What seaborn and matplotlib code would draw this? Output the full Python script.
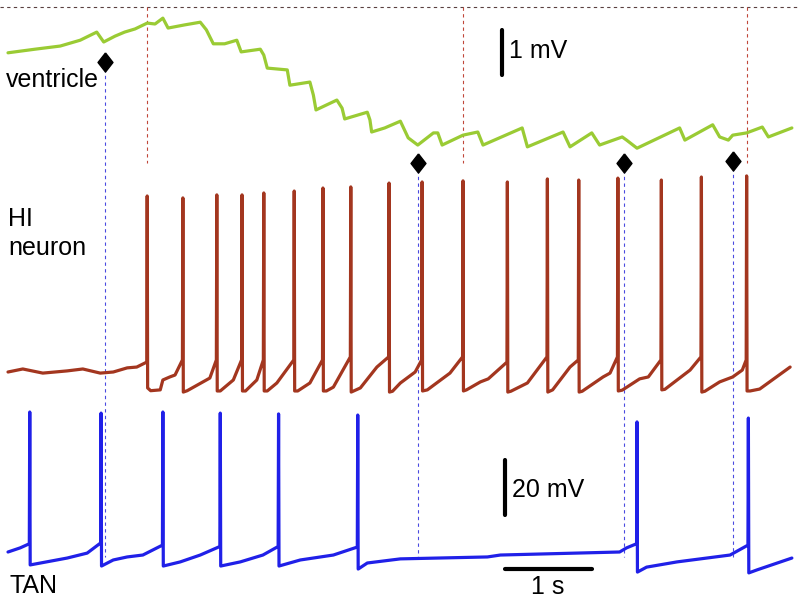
import matplotlib as mpl
import matplotlib.pyplot as plt
import numpy as np
import pandas as pd
import seaborn as sns

ventTime = [0.00, 0.31, 0.60, 0.83, 1.02, 1.10, 1.23, 1.34, 1.46, 1.60, 1.69, 1.78, 1.84, 2.03,
            2.21, 2.28, 2.36, 2.49, 2.63, 2.68, 2.90, 2.94, 2.98, 3.21, 3.24, 3.47, 3.51, 3.54,
            3.78, 3.84, 3.87, 4.13, 4.16, 4.18, 4.33, 4.51, 4.60, 4.71, 4.89, 4.94, 4.99, 5.23,
            5.40, 5.46, 5.91, 5.97, 6.38, 6.46, 6.71, 6.80, 7.06, 7.11, 7.23, 7.72, 7.78, 8.10,
            8.18, 8.28, 8.33, 8.49, 8.67, 8.74, 9.01]
ventMV = [2.16, 2.24, 2.31, 2.44, 2.62, 2.40, 2.53, 2.62, 2.69, 2.82, 2.80, 2.93, 2.71, 2.78,
          2.84, 2.67, 2.36, 2.36, 2.44, 2.18, 2.24, 2.11, 1.82, 1.78, 1.44, 1.51, 1.22, 0.89,
          1.11, 0.93, 0.69, 0.84, 0.67, 0.40, 0.49, 0.64, 0.27, 0.11, 0.38, 0.38, 0.11, 0.33,
          0.40, 0.11, 0.49, 0.07, 0.40, 0.07, 0.38, 0.11, 0.29, 0.22, 0.04, 0.49, 0.22, 0.56,
          0.29, 0.22, 0.33, 0.38, 0.51, 0.29, 0.49]

hiTime = [0.00, 0.17, 0.40, 0.68, 0.86, 1.06, 1.21, 1.37, 1.48, 1.595,
          1.60, 1.605, 1.64, 1.75, 1.78, 1.86, 1.92, 2.005,
          2.01, 2.015, 2.06, 2.32, 2.395,
          2.40, 2.405, 2.44, 2.59, 2.685,
          2.69, 2.695, 2.73, 2.86, 2.935,
          2.94, 2.945, 2.98, 3.09, 3.285,
          3.29, 3.295, 3.33, 3.47, 3.615,
          3.62, 3.625, 3.66, 3.74, 3.935,
          3.94, 3.945, 4.05, 4.24, 4.375,
          4.38, 4.385, 4.42, 4.51, 4.68, 4.755,
          4.76, 4.765, 4.82, 5.08, 5.225,
          5.23, 5.235, 5.27, 5.43, 5.52, 5.735,
          5.74, 5.745, 5.78, 5.97, 6.195,
          6.20, 6.205, 6.26, 6.46, 6.555,
          6.56, 6.565, 6.60, 6.84, 6.92, 7.005,
          7.01, 7.015, 7.06, 7.26, 7.36, 7.505,
          7.51, 7.515, 7.55, 7.84, 7.965,
          7.97, 7.975, 8.01, 8.18, 8.33, 8.44, 8.485,
          8.49, 8.495, 8.53, 8.64, 8.99]
hiMV = [-60.0, -58.9, -60.4, -59.6, -58.9, -60.4, -60.0, -58.5, -58.2, -56.4,
        4.0, -65.8, -66.8, -66.5, -62.9, -61.8, -61.1, -55.6,
        3.3, -67.3, -66.8, -62.2, -55.6,
        4.4, -66.9, -66.9, -62.9, -55.6,
        4.4, -66.9, -66.9, -62.9, -55.6,
        5.1, -66.9, -66.9, -64.0, -55.6,
        5.8, -66.9, -66.9, -64.0, -55.6,
        6.9, -66.9, -66.9, -65.5, -54.5,
        7.3, -67.3, -65.8, -58.2, -54.5,
        8.7, -67.3, -67.0, -64.0, -60.0, -55.6,
        9.1, -66.9, -66.5, -60.4, -54.5,
        9.5, -66.9, -66.5, -63.6, -62.5, -56.4,
        9.1, -67.3, -67.0, -64.0, -54.5,
        10.2, -67.3, -66.5, -58.2, -55.6,
        9.8, -67.3, -67.0, -61.8, -60.4, -54.5,
        10.5, -66.9, -66.6, -62.5, -61.8, -55.6,
        9.8, -66.5, -66.3, -59.3, -54.5,
        10.9, -67.3, -67.0, -63.6, -61.8, -59.3, -55.6,
        11.3, -66.9, -66.9, -66.2, -58.2]

tanTime = [0.00, 0.14, 0.245, 0.25, 0.255, 0.68, 0.91, 1.065,
           1.07, 1.075, 1.21, 1.37, 1.55, 1.775,
           1.78, 1.785, 1.98, 2.21, 2.435,
           2.44, 2.445, 2.67, 2.93, 3.105,
           3.11, 3.115, 3.36, 3.74, 4.015,
           4.02, 4.025, 4.13, 4.51, 5.51, 5.66, 7.03, 7.11, 7.225,
           7.23, 7.235, 7.34, 7.69, 8.30, 8.505,
           8.51, 8.515, 8.61, 9.01]
tanMV = [-60.0, -58.5, -57.0, -9.1, -64.7, -62.2, -60.4, -56.7,
         -9.5, -65.1, -62.9, -61.8, -61.1, -57.5,
         -9.1, -65.1, -63.6, -61.1, -58.0,
         -9.5, -65.1, -63.6, -61.1, -58.0,
         -9.8, -65.1, -62.9, -61.1, -58.2,
         -10.2, -66.2, -64.0, -62.5, -61.8, -61.1, -60.0, -58.5, -57.0,
         -12.7, -67.3, -65.5, -63.6, -61.1, -57.5,
         -11.3, -67.6, -66.5, -62.2]

# ventricle contraction markers and the HI spikes they are aligned to
beatTimes = [1.11, 4.71, 7.08, 8.33]
hiMarkedSpikes = [1.60, 5.23, 8.49]

# Layout: one axes, x in seconds, y in pixel rows (each trace has its own offset and gain)
figW, figH = 800, 603
ventRow0, ventGain = 150, 45      # row of 0 mV, px per mV
hiRow0, hiGain = 372, 2.75        # row of -60 mV, px per mV
tanRow0, tanGain = 552, 2.75

sns.set_style('white')
plt.rcParams['font.family'] = ['Liberation Sans', 'DejaVu Sans']

fig = plt.figure(figsize=(8, 6.03), dpi=100)
ax = fig.add_axes([0, 0, 1, 1])
ax.set_xlim(-8 / 87, (figW - 8) / 87)
ax.set_ylim(figH, 0)
ax.axis('off')

dfVent = pd.DataFrame({'t': ventTime, 'row': ventRow0 - ventGain * np.array(ventMV)})
dfHI = pd.DataFrame({'t': hiTime, 'row': hiRow0 - hiGain * (np.array(hiMV) + 60)})
dfTAN = pd.DataFrame({'t': tanTime, 'row': tanRow0 - tanGain * (np.array(tanMV) + 60)})

# dashed guide lines
dash = (0, (3, 3))
ax.axhline(7, color='#5a4040', lw=0.8, ls=dash)
for t in hiMarkedSpikes:
    ax.plot([t, t], [7, 163], color='#c0473a', lw=0.8, ls=dash)
beatRows = [62, 163, 163, 161]
for t, r in zip(beatTimes, beatRows):
    ax.plot([t, t], [r, 557], color='#4a4ae0', lw=0.8, ls=dash)

lineKw = dict(sort=False, estimator=None, lw=2.3, ax=ax, legend=False,
              solid_joinstyle='round', solid_capstyle='round')
sns.lineplot(data=dfVent, x='t', y='row', color='#9acb34', **lineKw)
sns.lineplot(data=dfHI, x='t', y='row', color='#a3361f', **lineKw)
sns.lineplot(data=dfTAN, x='t', y='row', color='#2020e8', **lineKw)

diamond = [(0, 1), (0.78, 0), (0, -1), (-0.78, 0), (0, 1)]
ax.scatter(beatTimes, beatRows, marker=diamond, s=190, color='black', zorder=5)

# scale bars
barX = (505 - 8) / 87
ax.plot([barX - 0.035, barX - 0.035], [75, 75 - ventGain * 1], color='black', lw=3)
ax.plot([barX, barX], [515, 515 - tanGain * 20], color='black', lw=3)
ax.plot([barX, barX + 1], [569, 569], color='black', lw=3)

txtKw = dict(fontsize=18, color='black', va='baseline')
fig.text(6 / figW, 1 - 87 / figH, 'ventricle', **txtKw)
fig.text(8 / figW, 1 - 226 / figH, 'HI', **txtKw)
fig.text(8 / figW, 1 - 255 / figH, 'neuron', **txtKw)
fig.text(10 / figW, 1 - 593 / figH, 'TAN', **txtKw)
fig.text(509 / figW, 1 - 58 / figH, '1 mV', **txtKw)
fig.text(512 / figW, 1 - 497 / figH, '20 mV', **txtKw)
fig.text(548 / figW, 1 - 594 / figH, '1 s', ha='center', **txtKw)

fig.savefig('out.png', dpi=100)
